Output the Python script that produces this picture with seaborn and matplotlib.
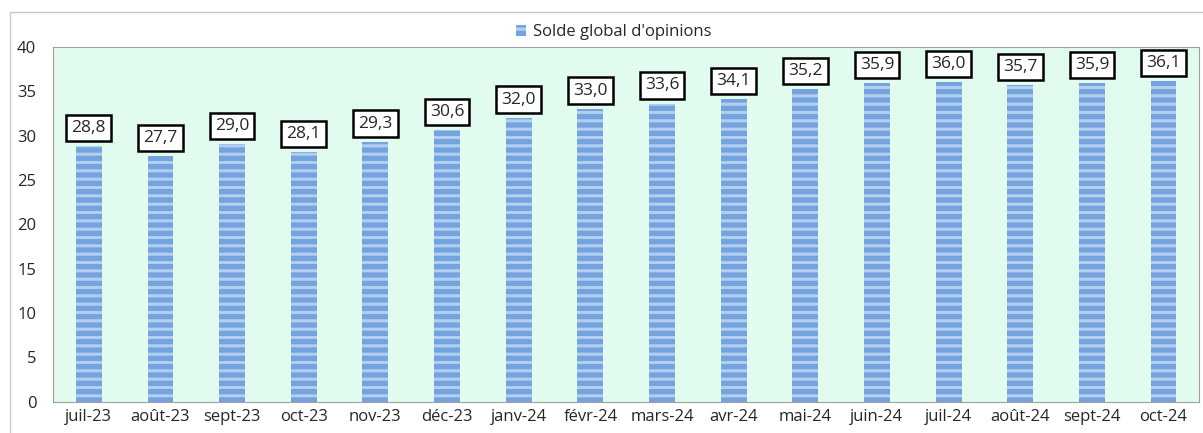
import pandas as pd
import seaborn as sns
import matplotlib.pyplot as plt
from matplotlib.patches import Patch

months = ['juil-23', 'août-23', 'sept-23', 'oct-23', 'nov-23', 'déc-23', 'janv-24', 'févr-24',
          'mars-24', 'avr-24', 'mai-24', 'juin-24', 'juil-24', 'août-24', 'sept-24', 'oct-24']
solde = [28.8, 27.7, 29.0, 28.1, 29.3, 30.6, 32.0, 33.0,
         33.6, 34.1, 35.2, 35.9, 36.0, 35.7, 35.9, 36.1]
series_name = "Solde global d'opinions"

df = pd.DataFrame({'mois': months, 'solde': solde})

sns.set_style('white')
plt.rcParams['font.family'] = ['Open Sans', 'DejaVu Sans']
plt.rcParams['hatch.linewidth'] = 2.2
plt.rcParams['hatch.color'] = '#b3cff0'

fig = plt.figure(figsize=(12.03, 4.33), dpi=100)
# outer chart frame
fig.patches.append(plt.Rectangle((0.008, -0.01), 1.0, 0.982, transform=fig.transFigure,
                                 fill=False, edgecolor='#c8c8c8', lw=1))
ax = fig.add_axes([0.044, 0.072, 0.953, 0.82])
ax.set_facecolor('#e1fbee')

sns.barplot(data=df, x='mois', y='solde', color='#74a3dd', width=0.36, ax=ax,
            saturation=1, edgecolor='none')
for p in ax.patches:
    p.set_hatch('--')
    p.set_edgecolor('#b3cff0')
    p.set_linewidth(0)

for i, v in enumerate(solde):
    ax.text(i, v + 2.05, f'{v:.1f}'.replace('.', ','), ha='center', va='center', fontsize=12.5,
            bbox=dict(boxstyle='square,pad=0.3', facecolor='white', edgecolor='black', lw=1.8))

ax.set_ylim(0, 40)
ax.set_xlim(-0.5, len(months) - 0.5)
ax.set_yticks(range(0, 41, 5))
ax.set_xlabel('')
ax.set_ylabel('')
ax.tick_params(axis='both', length=0, labelsize=12)
ax.tick_params(axis='y', pad=12)
ax.tick_params(axis='x', pad=5)
for s in ax.spines.values():
    s.set_color('#a0a0a0')
    s.set_linewidth(0.8)

handle = Patch(facecolor='#74a3dd', hatch='--', edgecolor='#b3cff0', lw=0)
fig.legend([handle], [series_name], loc='center', bbox_to_anchor=(0.51, 0.925),
           frameon=False, fontsize=12, handlelength=0.6, handleheight=0.6, handletextpad=0.4)

fig.savefig('out.png', dpi=100)
